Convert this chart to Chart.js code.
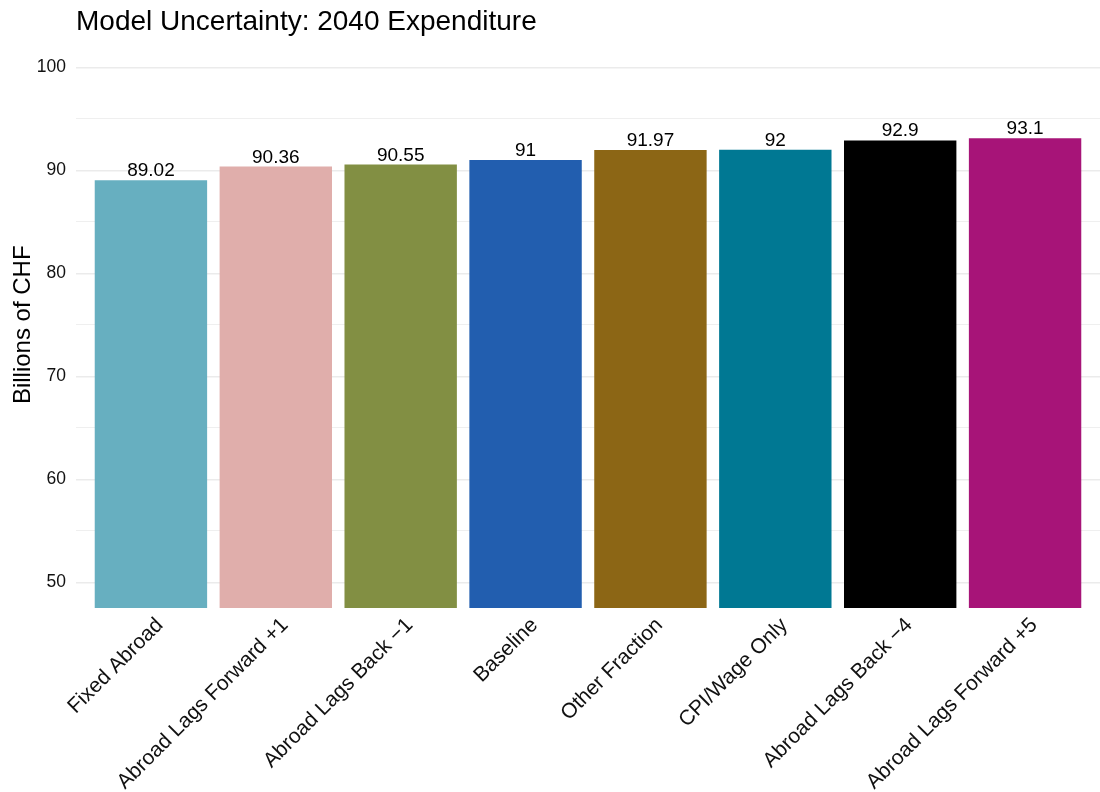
<!DOCTYPE html>
<html>
<head>
<meta charset="utf-8">
<script src="https://cdn.jsdelivr.net/npm/chart.js@4"></script>
<style>
  html, body { margin: 0; padding: 0; background: #ffffff; }
  #wrap { width: 1100px; height: 792px; position: relative; }
</style>
</head>
<body>
<div id="wrap"><canvas id="c" width="1100" height="792"></canvas></div>
<script>
const titleText = "Model Uncertainty: 2040 Expenditure";
const yAxisTitle = "Billions of CHF";
const categories = ["Fixed Abroad", "Abroad Lags Forward +1", "Abroad Lags Back \u22121", "Baseline", "Other Fraction", "CPI/Wage Only", "Abroad Lags Back \u22124", "Abroad Lags Forward +5"];
const values = [89.02, 90.36, 90.55, 91, 91.97, 92, 92.9, 93.1];
const valueLabels = ["89.02", "90.36", "90.55", "91", "91.97", "92", "92.9", "93.1"];
const barColors = ["#67AFC0", "#E0AEAB", "#828F43", "#225EAF", "#8C6615", "#007893", "#000000", "#A71478"];
const yTicks = [50, 55, 60, 65, 70, 75, 80, 85, 90, 95, 100];
const yLimits = [47.5, 102.5];

const FONT = "'Liberation Sans', Arial, Helvetica, sans-serif";

const titlePlugin = {
  id: 'ggTitle',
  afterDraw(chart) {
    const ctx = chart.ctx;
    ctx.save();
    ctx.font = "28px " + FONT;
    ctx.fillStyle = "#000000";
    ctx.textAlign = "left";
    ctx.textBaseline = "alphabetic";
    ctx.fillText(titleText, chart.chartArea.left, 30);
    ctx.restore();
  }
};

const valuePlugin = {
  id: 'valueLabels',
  afterDatasetsDraw(chart) {
    const ctx = chart.ctx;
    const meta = chart.getDatasetMeta(0);
    ctx.save();
    ctx.font = "19px " + FONT;
    ctx.fillStyle = "#000000";
    ctx.textAlign = "center";
    ctx.textBaseline = "alphabetic";
    meta.data.forEach((bar, i) => {
      ctx.fillText(valueLabels[i], bar.x, bar.y - 4);
    });
    ctx.restore();
  }
};

new Chart(document.getElementById('c'), {
  type: 'bar',
  data: {
    datasets: [{
      data: values.map((v, i) => ({ x: i + 1, y: v })),
      backgroundColor: barColors,
      borderWidth: 0,
      categoryPercentage: 0.9,
      barPercentage: 1.0
    }]
  },
  options: {
    responsive: false,
    animation: false,
    devicePixelRatio: 1,
    layout: { padding: { top: 41.5, left: 0, right: 0, bottom: 0 } },
    plugins: {
      legend: { display: false },
      tooltip: { enabled: false },
      title: { display: false }
    },
    scales: {
      x: {
        type: 'linear',
        min: 0.4,
        max: 8.6,
        offset: false,
        afterBuildTicks(scale) {
          scale.ticks = categories.map((c, i) => ({ value: i + 1 }));
        },
        afterFit(scale) { scale.height = 184; },
        grid: { display: false, drawTicks: false },
        border: { display: false },
        ticks: {
          autoSkip: false,
          minRotation: 45,
          maxRotation: 45,
          padding: 5,
          labelOffset: 9,
          color: "#111111",
          font: { family: FONT, size: 21 },
          callback: (v) => categories[Math.round(v) - 1] || ''
        }
      },
      y: {
        min: yLimits[0],
        max: yLimits[1],
        afterBuildTicks(scale) {
          scale.ticks = yTicks.map(v => ({ value: v }));
        },
        afterFit(scale) { scale.width = 76; },
        grid: {
          drawTicks: false,
          color: "#ebebeb",
          lineWidth: (ctx) => (ctx.tick && ctx.tick.value % 10 === 0) ? 1.4 : 0.8
        },
        border: { display: false },
        ticks: {
          padding: 10,
          color: "#111111",
          font: { family: FONT, size: 17.5 },
          callback: (v) => (v % 10 === 0 ? String(v) : '')
        },
        title: {
          display: true,
          text: yAxisTitle,
          color: "#000000",
          font: { family: FONT, size: 24 },
          padding: { top: 9, bottom: 0 }
        }
      }
    }
  },
  plugins: [titlePlugin, valuePlugin]
});
</script>
</body>
</html>
